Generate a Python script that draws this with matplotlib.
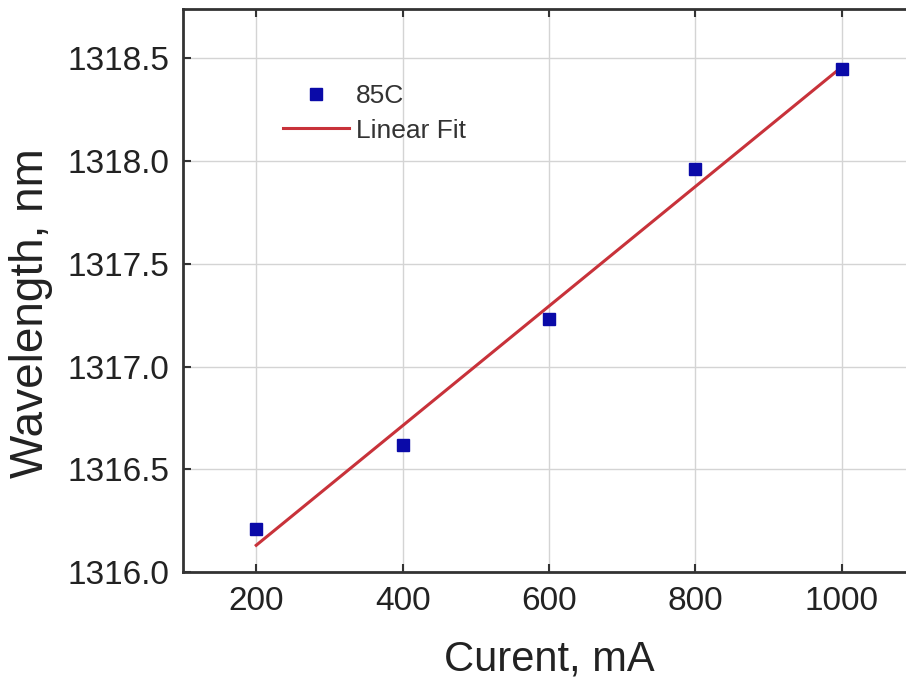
import numpy as np
import matplotlib
matplotlib.use("Agg")
import matplotlib.pyplot as plt

current_mA = [200, 400, 600, 800, 1000]
wavelength_nm = [1316.21, 1316.62, 1317.23, 1317.96, 1318.45]
x_ticks = [200, 400, 600, 800, 1000]
y_ticks = [1316.0, 1316.5, 1317.0, 1317.5, 1318.0, 1318.5]
series_label = "85C"
fit_label = "Linear Fit"

plt.rcParams['font.family'] = ['Liberation Sans', 'DejaVu Sans']

fig = plt.figure(figsize=(9.06, 6.82), dpi=100)
ax = fig.add_axes([183/906, 1-572/682, (915-183)/906, (572-9)/682])

slope, intercept = np.polyfit(current_mA, wavelength_nm, 1)
xf = np.array([current_mA[0], current_mA[-1]])
ax.plot(xf, slope*xf + intercept, color='#c8323a', lw=2.2, label=fit_label, zorder=2)
ax.plot(current_mA, wavelength_nm, 's', color='#0a0aa8', ms=8, label=series_label, zorder=3)

ax.set_xlim(100, 1100)
ax.set_ylim(1316.0, 1318.74)
ax.set_xticks(x_ticks)
ax.set_yticks(y_ticks)
ax.set_yticklabels([f"{v:.1f}" for v in y_ticks])
ax.grid(True, color='#d4d4d4', lw=1.0)
ax.set_axisbelow(True)
ax.tick_params(direction='in', length=6, width=1.5, top=True, right=True,
               labelsize=24, pad=10, colors='#333333', labelcolor='#222222')
for s in ax.spines.values():
    s.set_linewidth(2.0)
    s.set_color('#333333')

ax.set_xlabel("Curent, mA", fontsize=30, color='#222222')
ax.set_ylabel("Wavelength, nm", fontsize=33, color='#222222')
ax.xaxis.set_label_coords(0.5, -0.12)
ax.yaxis.set_label_coords(-0.177, 0.46)

h, l = ax.get_legend_handles_labels()
leg = ax.legend([h[1], h[0]], [l[1], l[0]], loc='upper left',
                bbox_to_anchor=((283-183)/732, 1-(84-9)/563), frameon=False,
                fontsize=19, handlelength=2.5, handletextpad=0.25,
                labelspacing=0.4, borderpad=0, borderaxespad=0)
for t in leg.get_texts():
    t.set_color('#333333')

fig.savefig("out.png", dpi=100)
